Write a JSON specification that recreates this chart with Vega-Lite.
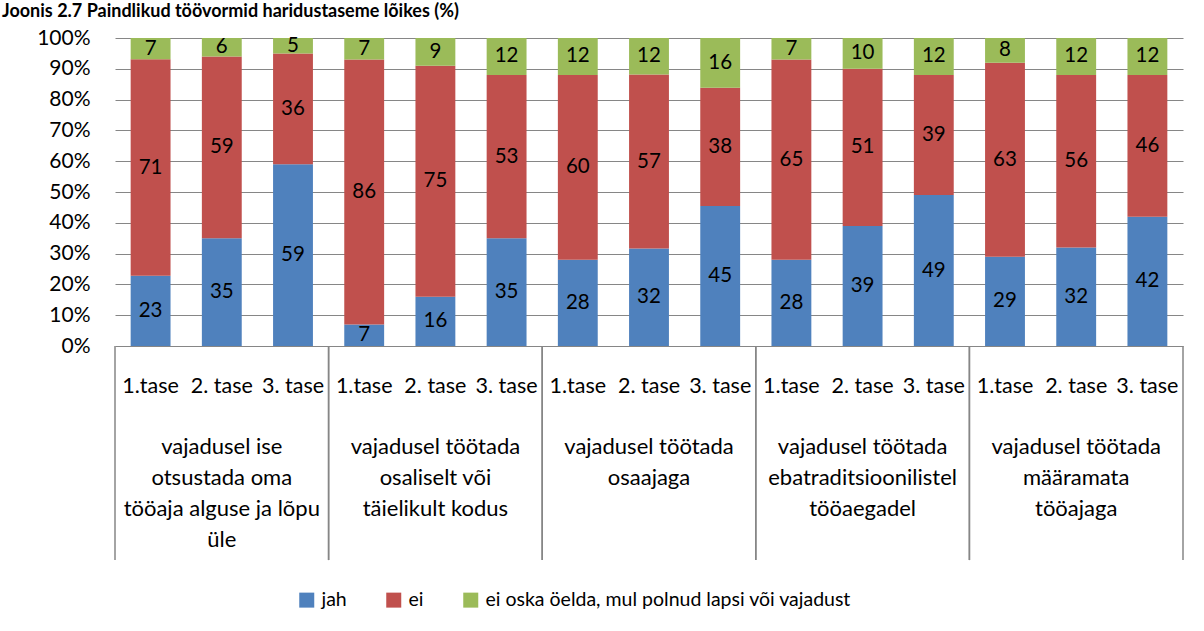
{
  "$schema": "https://vega.github.io/schema/vega-lite/v6.json",
  "width": 1068,
  "height": 308,
  "autosize": {"type": "none"},
  "padding": {"left": 115, "top": 38, "right": 21, "bottom": 285},
  "background": "white",
  "config": {
    "view": {"stroke": null},
    "axisY": {"labelOverlap": false, "format": ".0%", "domain": false, "ticks": false, "grid": true, "gridColor": "#868686", "gridWidth": 1, "labelFont": "Lato", "labelFontSize": 21, "labelColor": "black", "labelPadding": 25, "title": null}
  },
  "title": {
    "text": "Joonis 2.7 Paindlikud töövormid haridustaseme lõikes (%)",
    "anchor": "start",
    "frame": "group",
    "dx": -113,
    "offset": 0,
    "dy": 8,
    "baseline": "alphabetic",
    "font": "Lato",
    "fontSize": 18,
    "fontWeight": "bold",
    "color": "black"
  },
  "data": {
    "values": [
      {"group": "vajadusel ise otsustada oma tööaja alguse ja lõpu üle", "level": "1.tase", "jah": 23, "ei": 71, "eos": 7},
      {"group": "vajadusel ise otsustada oma tööaja alguse ja lõpu üle", "level": "2. tase", "jah": 35, "ei": 59, "eos": 6},
      {"group": "vajadusel ise otsustada oma tööaja alguse ja lõpu üle", "level": "3. tase", "jah": 59, "ei": 36, "eos": 5},
      {"group": "vajadusel töötada osaliselt või täielikult kodus", "level": "1.tase", "jah": 7, "ei": 86, "eos": 7},
      {"group": "vajadusel töötada osaliselt või täielikult kodus", "level": "2. tase", "jah": 16, "ei": 75, "eos": 9},
      {"group": "vajadusel töötada osaliselt või täielikult kodus", "level": "3. tase", "jah": 35, "ei": 53, "eos": 12},
      {"group": "vajadusel töötada osaajaga", "level": "1.tase", "jah": 28, "ei": 60, "eos": 12},
      {"group": "vajadusel töötada osaajaga", "level": "2. tase", "jah": 32, "ei": 57, "eos": 12},
      {"group": "vajadusel töötada osaajaga", "level": "3. tase", "jah": 45, "ei": 38, "eos": 16},
      {"group": "vajadusel töötada ebatraditsioonilistel tööaegadel", "level": "1.tase", "jah": 28, "ei": 65, "eos": 7},
      {"group": "vajadusel töötada ebatraditsioonilistel tööaegadel", "level": "2. tase", "jah": 39, "ei": 51, "eos": 10},
      {"group": "vajadusel töötada ebatraditsioonilistel tööaegadel", "level": "3. tase", "jah": 49, "ei": 39, "eos": 12},
      {"group": "vajadusel töötada määramata tööajaga", "level": "1.tase", "jah": 29, "ei": 63, "eos": 8},
      {"group": "vajadusel töötada määramata tööajaga", "level": "2. tase", "jah": 32, "ei": 56, "eos": 12},
      {"group": "vajadusel töötada määramata tööajaga", "level": "3. tase", "jah": 42, "ei": 46, "eos": 12}
    ]
  },
  "transform": [
    {"fold": ["jah", "ei", "eos"], "as": ["answer", "value"]},
    {"calculate": "indexof(['jah','ei','eos'], datum.answer)", "as": "ord"}
  ],
  "resolve": {"scale": {"y": "independent"}, "axis": {"y": "independent"}},
  "encoding": {
    "x": {
      "field": "group",
      "type": "nominal",
      "sort": null,
      "scale": {"paddingInner": 0, "paddingOuter": 0},
      "axis": {
        "title": null,
        "domain": false,
        "ticks": false,
        "labelAngle": 0,
        "labelFont": "Lato",
        "labelFontSize": 22,
        "labelColor": "black",
        "labelPadding": 90,
        "labelLineHeight": 31,
        "labelLimit": 400,
        "labelOverlap": false,
        "labelBaseline": "top",
        "labelExpr": "datum.value == 'vajadusel ise otsustada oma tööaja alguse ja lõpu üle' ? ['vajadusel ise', 'otsustada oma', 'tööaja alguse ja lõpu', 'üle'] : datum.value == 'vajadusel töötada osaliselt või täielikult kodus' ? ['vajadusel töötada', 'osaliselt või', 'täielikult kodus'] : datum.value == 'vajadusel töötada osaajaga' ? ['vajadusel töötada', 'osaajaga'] : datum.value == 'vajadusel töötada ebatraditsioonilistel tööaegadel' ? ['vajadusel töötada', 'ebatraditsioonilistel', 'tööaegadel'] : ['vajadusel töötada', 'määramata', 'tööajaga']"
      }
    }
  },
  "layer": [
    {
      "mark": {"type": "bar"},
      "encoding": {
        "xOffset": {"field": "level", "type": "nominal", "scale": {"paddingInner": 0.44, "paddingOuter": 0.22}},
        "y": {
          "field": "value",
          "type": "quantitative",
          "stack": "normalize",
          "scale": {"domain": [0, 1], "nice": false},
          "axis": {"values": [0, 0.1, 0.2, 0.3, 0.4, 0.5, 0.6, 0.7, 0.8, 0.9, 1], "labelOverlap": false}
        },
        "color": {
          "field": "answer",
          "type": "nominal",
          "scale": {"domain": ["jah", "ei", "eos"], "range": ["#4F81BD", "#C0504D", "#9BBB59"]},
          "legend": {
            "title": null,
            "orient": "none",
            "legendX": 182,
            "legendY": 552,
            "direction": "horizontal",
            "symbolType": "square",
            "symbolSize": 225,
            "symbolStrokeWidth": 0,
            "labelFont": "Lato",
            "labelFontSize": 19.5,
            "labelColor": "black",
            "labelLimit": 600,
            "columnPadding": 37,
            "labelOffset": 5,
            "padding": 0,
            "labelExpr": "datum.label == 'eos' ? 'ei oska öelda, mul polnud lapsi või vajadust' : datum.label"
          }
        },
        "order": {"field": "ord", "type": "quantitative"}
      }
    },
    {
      "mark": {"type": "text", "font": "Lato", "fontSize": 20.5, "color": "black", "baseline": "middle"},
      "encoding": {
        "xOffset": {"field": "level", "type": "nominal"},
        "y": {"field": "value", "type": "quantitative", "stack": "normalize", "bandPosition": 0.5, "scale": {"domain": [0, 1], "nice": false}, "axis": null},
        "detail": {"field": "answer"},
        "order": {"field": "ord", "type": "quantitative"},
        "text": {"field": "value"}
      }
    },
    {
      "transform": [{"filter": "datum.answer == 'jah'"}],
      "mark": {"type": "text", "font": "Lato", "fontSize": 21.5, "color": "black", "baseline": "middle"},
      "encoding": {
        "xOffset": {"field": "level", "type": "nominal"},
        "y": {"datum": -0.133, "scale": {"domain": [0, 1], "nice": false}, "axis": null},
        "text": {"field": "level"}
      }
    },
    {
      "transform": [{"filter": "datum.answer == 'jah' && datum.level == '1.tase'"}],
      "mark": {"type": "rule", "color": "#868686", "strokeWidth": 1.5},
      "encoding": {
        "x": {"field": "group", "type": "nominal", "sort": null, "bandPosition": 0},
        "y": {"datum": 0, "scale": {"domain": [0, 1], "nice": false}, "axis": null},
        "y2": {"datum": -0.695}
      }
    },
    {
      "transform": [{"filter": "datum.answer == 'jah' && datum.level == '1.tase'"}],
      "mark": {"type": "rule", "color": "#868686", "strokeWidth": 1.5},
      "encoding": {
        "x": {"field": "group", "type": "nominal", "sort": null, "bandPosition": 1},
        "y": {"datum": 0, "scale": {"domain": [0, 1], "nice": false}, "axis": null},
        "y2": {"datum": -0.695}
      }
    }
  ]
}
